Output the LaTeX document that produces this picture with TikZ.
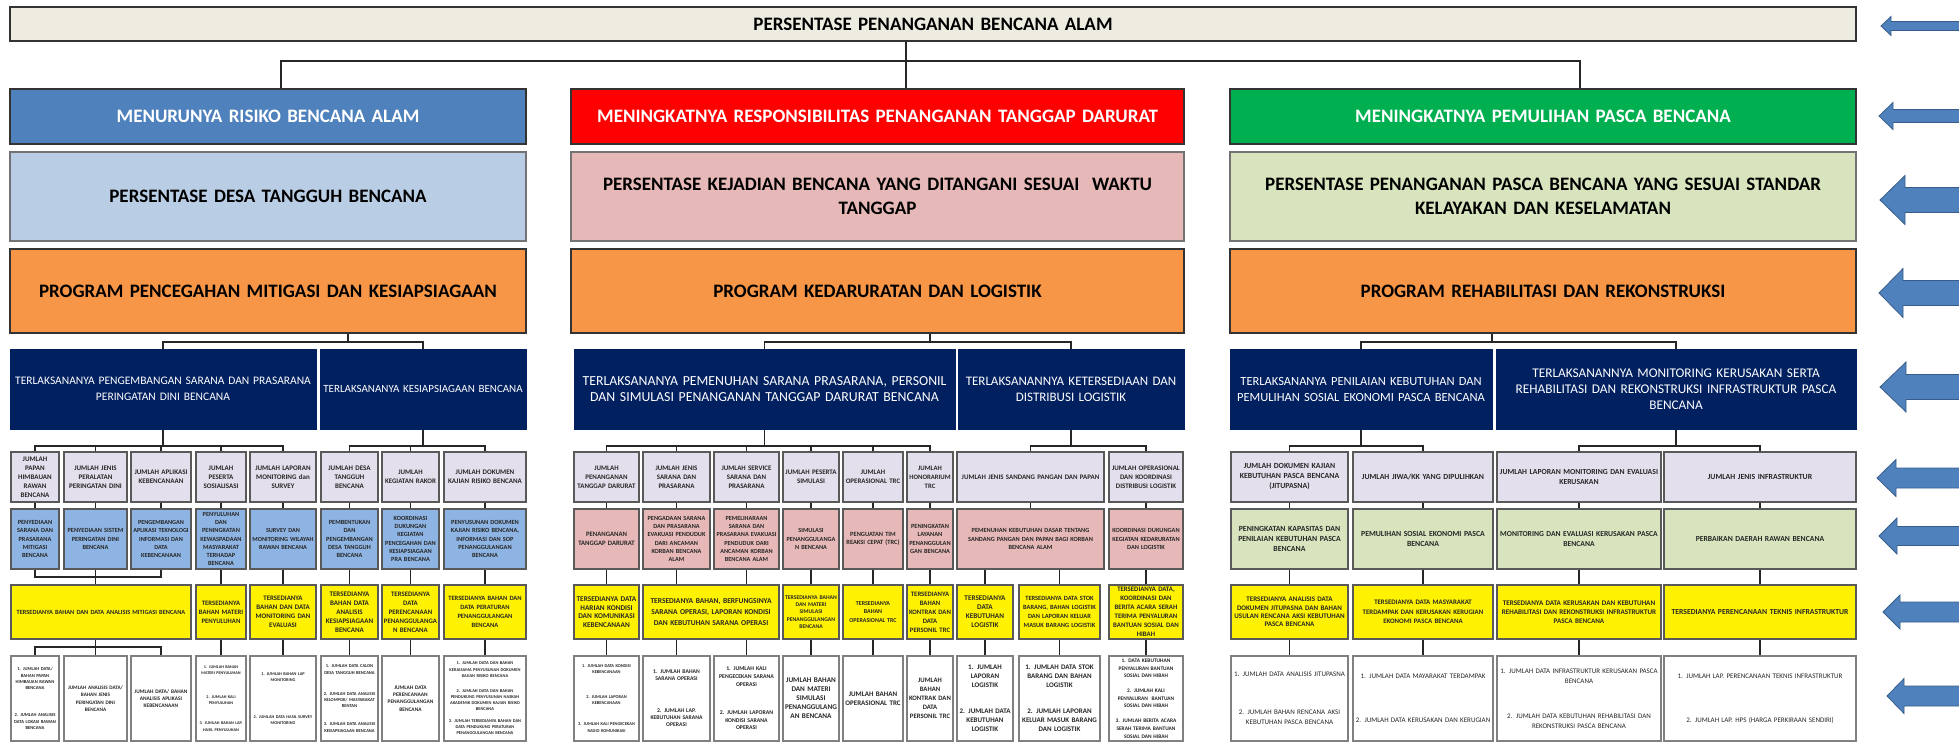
\documentclass[tikz,border=0pt]{standalone}
\usepackage{fontspec}
\setmainfont{Carlito}
\definecolor{cTitle}{HTML}{EEECE1}
\definecolor{cBlue}{HTML}{4F81BD}
\definecolor{cRed}{HTML}{FF0000}
\definecolor{cGreen}{HTML}{00B050}
\definecolor{cT2l}{HTML}{B9CDE5}
\definecolor{cT2m}{HTML}{E6B9B8}
\definecolor{cT2r}{HTML}{D7E4BD}
\definecolor{cOrange}{HTML}{F79646}
\definecolor{cNavy}{HTML}{002060}
\definecolor{cLav}{HTML}{E4DFEC}
\definecolor{cBlueBox}{HTML}{8DB4E2}
\definecolor{cPink}{HTML}{E6B9B8}
\definecolor{cGreenBox}{HTML}{D7E4BD}
\definecolor{cArrow}{HTML}{4F81BD}
\definecolor{cArrowD}{HTML}{385D8A}
\newcommand\mybox[7]{%
 \pgfmathsetlengthmacro\mbw{(#4-#2)*1pt}%
 \pgfmathsetlengthmacro\mbh{(#5-#3)*1pt}%
 \pgfmathsetlengthmacro\mbt{(#4-#2-3)*1pt}%
 \node[#6, minimum width=\mbw, minimum height=\mbh, text width=\mbt] (#1) at ({(#2+#4)/2},{(#3+#5)/2}) {#7};}
\newcommand\myarrow[5]{\filldraw[arr] ({#2},{#1}) -- ({#3},{#1-#4}) -- ({#3},{#1-#5}) -- (1965,{#1-#5}) -- (1965,{#1+#5}) -- ({#3},{#1+#5}) -- ({#3},{#1+#4}) -- cycle;}
\tikzset{
 fs/.style 2 args={font=\fontsize{#1pt}{#2pt}\selectfont\bfseries},
 fr/.style 2 args={font=\fontsize{#1pt}{#2pt}\selectfont},
 tier/.style={rectangle, draw=black!80, line width=1.5pt, align=center, inner xsep=1.5pt, inner ysep=0pt},
 nav/.style={rectangle, fill=cNavy, draw=cNavy, line width=1pt, text=white, align=center, inner xsep=1.5pt, inner ysep=0pt},
 sml/.style={rectangle, draw=black!65, line width=1.4pt, align=center, inner xsep=1.5pt, inner ysep=0pt, text=black!85},
 lav/.style={sml, fill=cLav},
 blu/.style={sml, fill=cBlueBox},
 pnk/.style={sml, fill=cPink},
 grn/.style={sml, fill=cGreenBox},
 yel/.style={sml, fill=yellow},
 wht/.style={sml, fill=white, draw=black!50},
 conn/.style={draw=black!85, line width=1.5pt},
 arr/.style={fill=cArrow, draw=cArrowD, line width=0.8pt}
}
\begin{document}
\hyphenpenalty=10000 \exhyphenpenalty=10000
\begin{tikzpicture}[x=1pt,y=-1pt]
\useasboundingbox (0,0) rectangle (1959,743);
\fill[white] (0,0) rectangle (1959,743);
% ---------- top tiers
\mybox{top}{10}{7}{1856}{41}{tier,fill=cTitle,fs={19}{22}}{PERSENTASE PENANGANAN BENCANA ALAM}
\mybox{t1l}{10}{89}{526}{144}{tier,fill=cBlue,text=white,fs={19}{22}}{MENURUNYA RISIKO BENCANA ALAM}
\mybox{t1m}{571}{89}{1184}{144}{tier,fill=cRed,text=white,fs={19}{22}}{MENINGKATNYA RESPONSIBILITAS PENANGANAN TANGGAP DARURAT}
\mybox{t1r}{1230}{89}{1856}{144}{tier,fill=cGreen,text=white,fs={19}{22}}{MENINGKATNYA PEMULIHAN PASCA BENCANA}
\mybox{t2l}{10}{152}{526}{241}{tier,draw=black!55,fill=cT2l,fs={19}{24}}{PERSENTASE DESA TANGGUH BENCANA}
\mybox{t2m}{571}{152}{1184}{241}{tier,draw=black!55,fill=cT2m,fs={19}{24}}{PERSENTASE KEJADIAN BENCANA YANG DITANGANI SESUAI~ WAKTU\\TANGGAP}
\mybox{t2r}{1230}{152}{1856}{241}{tier,draw=black!55,fill=cT2r,fs={19}{24}}{PERSENTASE PENANGANAN PASCA BENCANA YANG SESUAI STANDAR\\KELAYAKAN DAN KESELAMATAN}
\mybox{t3l}{10}{249}{526}{333}{tier,fill=cOrange,fs={19}{24}}{PROGRAM PENCEGAHAN MITIGASI DAN KESIAPSIAGAAN}
\mybox{t3m}{571}{249}{1184}{333}{tier,fill=cOrange,fs={19}{24}}{PROGRAM KEDARURATAN DAN LOGISTIK}
\mybox{t3r}{1230}{249}{1856}{333}{tier,fill=cOrange,fs={19}{24}}{PROGRAM REHABILITASI DAN REKONSTRUKSI}
% ---------- navy
\mybox{nL1}{10}{349}{316}{429}{nav,fr={11.5}{16}}{TERLAKSANANYA PENGEMBANGAN SARANA DAN PRASARANA\\PERINGATAN DINI BENCANA}
\mybox{nL2}{320}{349}{526}{429}{nav,fr={11}{16}}{TERLAKSANANYA KESIAPSIAGAAN BENCANA}
\mybox{nM1}{574}{349}{955}{429}{nav,fr={13.8}{16}}{TERLAKSANANYA PEMENUHAN SARANA PRASARANA, PERSONIL\\DAN SIMULASI PENANGANAN TANGGAP DARURAT BENCANA}
\mybox{nM2}{958}{349}{1184}{429}{nav,fr={13}{16}}{TERLAKSANANNYA KETERSEDIAAN DAN\\DISTRIBUSI LOGISTIK}
\mybox{nR1}{1230}{349}{1492}{429}{nav,fr={12.5}{16}}{TERLAKSANANYA PENILAIAN KEBUTUHAN DAN\\PEMULIHAN SOSIAL EKONOMI PASCA BENCANA}
\mybox{nR2}{1496}{349}{1856}{429}{nav,fr={13.3}{16}}{TERLAKSANANNYA MONITORING KERUSAKAN SERTA\\REHABILITASI DAN REKONSTRUKSI INFRASTRUKTUR PASCA\\BENCANA}
% ---------- left group
\mybox{lL1}{11}{452}{59}{502}{lav,fs={7}{9}}{JUMLAH\\PAPAN\\HIMBAUAN\\RAWAN\\BENCANA}
\mybox{lL2}{64}{452}{127}{502}{lav,fs={7}{9}}{JUMLAH JENIS\\PERALATAN\\PERINGATAN DINI}
\mybox{lL3}{131}{452}{191}{502}{lav,fs={7}{9}}{JUMLAH APLIKASI\\KEBENCANAAN}
\mybox{lL4}{196}{452}{246}{502}{lav,fs={7}{9}}{JUMLAH\\PESERTA\\SOSIALISASI}
\mybox{lL5}{250}{452}{316}{502}{lav,fs={7}{9}}{JUMLAH LAPORAN\\MONITORING dan\\SURVEY}
\mybox{lL6}{321}{452}{378}{502}{lav,fs={7}{9}}{JUMLAH DESA\\TANGGUH\\BENCANA}
\mybox{lL7}{382}{452}{439}{502}{lav,fs={6.9}{9}}{JUMLAH\\KEGIATAN RAKOR}
\mybox{lL8}{444}{452}{526}{502}{lav,fs={7}{9}}{JUMLAH DOKUMEN\\KAJIAN RISIKO BENCANA}
\mybox{bL1}{11}{509}{59}{569}{blu,fs={6.3}{8.3}}{PENYEDIAAN\\SARANA DAN\\PRASARANA\\MITIGASI\\BENCANA}
\mybox{bL2}{64}{509}{127}{569}{blu,fs={6.3}{8.3}}{PENYEDIAAN SISTEM\\PERINGATAN DINI\\BENCANA}
\mybox{bL3}{131}{509}{191}{569}{blu,fs={6.2}{8.3}}{PENGEMBANGAN\\APLIKASI TEKNOLOGI\\INFORMASI DAN\\DATA\\KEBENCANAAN}
\mybox{bL4}{196}{509}{246}{569}{blu,fs={6.3}{8.3}}{PENYULUHAN\\DAN\\PENINGKATAN\\KEWASPADAAN\\MASYARAKAT\\TERHADAP\\BENCANA}
\mybox{bL5}{250}{509}{316}{569}{blu,fs={6.2}{8.3}}{SURVEY DAN\\MONITORING WILAYAH\\RAWAN BENCANA}
\mybox{bL6}{321}{509}{378}{569}{blu,fs={6.3}{8.3}}{PEMBENTUKAN\\DAN\\PENGEMBANGAN\\DESA TANGGUH\\BENCANA}
\mybox{bL7}{382}{509}{439}{569}{blu,fs={6.3}{8.3}}{KOORDINASI\\DUKUNGAN\\KEGIATAN\\PENCEGAHAN DAN\\KESIAPSIAGAAN\\PRA BENCANA}
\mybox{bL8}{444}{509}{526}{569}{blu,fs={6.3}{8.3}}{PENYUSUNAN DOKUMEN\\KAJIAN RISIKO BENCANA,\\INFORMASI DAN SOP\\PENANGGULANGAN\\BENCANA}
\mybox{yL1}{11}{585}{191}{639}{yel,fs={6.35}{9}}{TERSEDIANYA BAHAN DAN DATA ANALISIS MITIGASI BENCANA}
\mybox{yL4}{196}{585}{246}{639}{yel,fs={6.7}{9}}{TERSEDIANYA\\BAHAN MATERI\\PENYULUHAN}
\mybox{yL5}{250}{585}{316}{639}{yel,fs={6.9}{9}}{TERSEDIANYA\\BAHAN DAN DATA\\MONITORING DAN\\EVALUASI}
\mybox{yL6}{321}{585}{378}{639}{yel,fs={7}{8.9}}{TERSEDIANYA\\BAHAN DATA\\ANALISIS\\KESIAPSIAGAAN\\BENCANA}
\mybox{yL7}{382}{585}{439}{639}{yel,fs={6.8}{8.9}}{TERSEDIANYA\\DATA\\PERENCANAAN\\PENANGGULANGA\\N BENCANA}
\mybox{yL8}{444}{585}{526}{639}{yel,fs={6.5}{8.9}}{TERSEDIANYA BAHAN DAN\\DATA PERATURAN\\PENANGGULANGAN\\BENCANA}
\mybox{wL1}{11}{656}{59}{741}{wht,fs={4.6}{6.3}}{1. JUMLAH DATA/\\BAHAN PAPAN\\HIMBAUAN RAWAN\\BENCANA\\[21pt]2. JUMLAH ANALISIS\\DATA LOKASI RAWAN\\BENCANA}
\mybox{wL2}{64}{656}{127}{741}{wht,fs={5.2}{7.5}}{JUMLAH ANALISIS DATA/\\BAHAN JENIS\\PERINGATAN DINI\\BENCANA}
\mybox{wL3}{131}{656}{191}{741}{wht,fs={5.4}{7.2}}{JUMLAH DATA/ BAHAN\\ANALISIS APLIKASI\\KEBENCANAAN}
\mybox{wL4}{196}{656}{246}{741}{wht,fs={4.2}{6.3}}{1. JUMLAH BAHAN\\MATERI PENYULUHAN\\[17pt]2. JUMLAH KALI\\PENYULUHAN\\[14pt]3. JUMLAH BAHAN LAP.\\HASIL PENYULUHAN}
\mybox{wL5}{250}{656}{316}{741}{wht,fs={4.3}{6.3}}{1. JUMLAH BAHAN LAP\\MONITORING\\[30pt]2. JUMLAH DATA HASIL SURVEY\\MONITORING}
\mybox{wL6}{321}{656}{378}{741}{wht,fs={4.5}{6.2}}{1. JUMLAH DATA CALON\\DESA TANGGUH BENCANA\\[15pt]2. JUMLAH DATA ANALISIS\\KELOMPOK/ MASYARAKAT\\RENTAN\\[12pt]3. JUMLAH DATA ANALISIS\\KESIAPSIAGAAN BENCANA}
\mybox{wL7}{382}{656}{439}{741}{wht,fs={5.4}{7.2}}{JUMLAH DATA\\PERENCANAAN\\PENANGGULANGAN\\BENCANA}
\mybox{wL8}{444}{656}{526}{741}{wht,fs={4.4}{6.1}}{1. JUMLAH DATA DAN BAHAN\\KERJASAMA PENYUSUNAN DOKUMEN\\KAJIAN RISIKO BENCANA\\[9pt]2. JUMLAH DATA DAN BAHAN\\PENDUKUNG PENYUSUNAN NASKAH\\AKADEMIK DOKUMEN KAJIAN RISIKO\\BENCANA\\[6pt]3. JUMLAH TERSEDIANYA BAHAN DAN\\DATA PENDUKUNG PERATURAN\\PENANGGULANGAN BENCANA}
% ---------- middle group
\mybox{lM1}{574}{452}{639}{502}{lav,fs={6.9}{9}}{JUMLAH\\PENANGANAN\\TANGGAP DARURAT}
\mybox{lM2}{643}{452}{710}{502}{lav,fs={6.9}{9}}{JUMLAH JENIS\\SARANA DAN\\PRASARANA}
\mybox{lM3}{714}{452}{779}{502}{lav,fs={6.9}{9}}{JUMLAH SERVICE\\SARANA DAN\\PRASARANA}
\mybox{lM4}{783}{452}{839}{502}{lav,fs={6.9}{9}}{JUMLAH PESERTA\\SIMULASI}
\mybox{lM5}{843}{452}{903}{502}{lav,fs={6.9}{9}}{JUMLAH\\OPERASIONAL TRC}
\mybox{lM6}{907}{452}{953}{502}{lav,fs={6.7}{9}}{JUMLAH\\HONORARIUM\\TRC}
\mybox{lM7}{957}{452}{1104}{502}{lav,fs={6.9}{9}}{JUMLAH JENIS SANDANG PANGAN DAN PAPAN}
\mybox{lM8}{1109}{452}{1183}{502}{lav,fs={6.9}{9}}{JUMLAH OPERASIONAL\\DAN KOORDINASI\\DISTRIBUSI LOGISTIK}
\mybox{pM1}{574}{509}{639}{569}{pnk,fs={6.7}{9}}{PENANGANAN\\TANGGAP DARURAT}
\mybox{pM2}{643}{509}{710}{569}{pnk,fs={6.25}{8.3}}{PENGADAAN SARANA\\DAN PRASARANA\\EVAKUASI PENDUDUK\\DARI ANCAMAN\\KORBAN BENCANA\\ALAM}
\mybox{pM3}{714}{509}{779}{569}{pnk,fs={6.2}{8.3}}{PEMELIHARAAN\\SARANA DAN\\PRASARANA EVAKUASI\\PENDUDUK DARI\\ANCAMAN KORBAN\\BENCANA ALAM}
\mybox{pM4}{783}{509}{839}{569}{pnk,fs={6.25}{8.3}}{SIMULASI\\PENANGGULANGA\\N BENCANA}
\mybox{pM5}{843}{509}{903}{569}{pnk,fs={6.4}{8.3}}{PENGUATAN TIM\\REAKSI CEPAT (TRC)}
\mybox{pM6}{907}{509}{953}{569}{pnk,fs={6.3}{8.3}}{PENINGKATAN\\LAYANAN\\PENANGGULAN\\GAN BENCANA}
\mybox{pM7}{957}{509}{1104}{569}{pnk,fs={6.3}{8.3}}{PEMENUHAN KEBUTUHAN DASAR TENTANG\\SANDANG PANGAN DAN PAPAN BAGI KORBAN\\BENCANA ALAM}
\mybox{pM8}{1109}{509}{1183}{569}{pnk,fs={6.3}{8.3}}{KOORDINASI DUKUNGAN\\KEGIATAN KEDARURATAN\\DAN LOGISTIK}
\mybox{yM1}{574}{585}{639}{639}{yel,fs={7.3}{8.7}}{TERSEDIANYA DATA\\HARIAN KONDISI\\DAN KOMUNIKASI\\KEBENCANAAN}
\mybox{yM2}{643}{585}{779}{639}{yel,fs={7.5}{10.7}}{TERSEDIANYA BAHAN, BERFUNGSINYA\\SARANA OPERASI, LAPORAN KONDISI\\DAN KEBUTUHAN SARANA OPERASI}
\mybox{yM3}{783}{585}{839}{639}{yel,fs={5.7}{7.3}}{TERSEDIANYA BAHAN\\DAN MATERI\\SIMULASI\\PENANGGULANGAN\\BENCANA}
\mybox{yM4}{843}{585}{903}{639}{yel,fs={6}{8.3}}{TERSEDIANYA\\BAHAN\\OPERASIONAL TRC}
\mybox{yM5}{907}{585}{953}{639}{yel,fs={6.7}{9}}{TERSEDIANYA\\BAHAN\\KONTRAK DAN\\DATA\\PERSONIL TRC}
\mybox{yM6}{957}{585}{1013}{639}{yel,fs={7.2}{9}}{TERSEDIANYA\\DATA\\KEBUTUHAN\\LOGISTIK}
\mybox{yM7}{1019}{585}{1100}{639}{yel,fs={6.4}{8.9}}{TERSEDIANYA DATA STOK\\BARANG, BAHAN LOGISTIK\\DAN LAPORAN KELUAR\\MASUK BARANG LOGISTIK}
\mybox{yM8}{1109}{585}{1183}{639}{yel,fs={6.8}{8.9}}{TERSEDIANYA DATA,\\KOORDINASI DAN\\BERITA ACARA SERAH\\TERIMA PENYALURAN\\BANTUAN SOSIAL DAN\\HIBAH}
\mybox{wM1}{574}{656}{639}{741}{wht,fs={4.4}{6.3}}{1. JUMLAH DATA KONDISI\\KEBENCANAAN\\[18pt]2. JUMLAH LAPORAN\\KEBENCANAAN\\[15pt]3. JUMLAH KALI PENGECEKAN\\RADIO KOMUNIKASI}
\mybox{wM2}{643}{656}{710}{741}{wht,fs={5.7}{7}}{1. JUMLAH BAHAN\\SARANA OPERASI\\[25pt]2. JUMLAH LAP.\\KEBUTUHAN SARANA\\OPERASI}
\mybox{wM3}{714}{656}{779}{741}{wht,fs={5.8}{7.8}}{1. JUMLAH KALI\\PENGECEKAN SARANA\\OPERASI\\[20pt]2. JUMLAH LAPORAN\\KONDISI SARANA\\OPERASI}
\mybox{wM4}{783}{656}{839}{741}{wht,fs={7.2}{9}}{JUMLAH BAHAN\\DAN MATERI\\SIMULASI\\PENANGGULANG\\AN BENCANA}
\mybox{wM5}{843}{656}{903}{741}{wht,fs={7}{9}}{JUMLAH BAHAN\\OPERASIONAL TRC}
\mybox{wM6}{907}{656}{953}{741}{wht,fs={6.7}{9}}{JUMLAH\\BAHAN\\KONTRAK DAN\\DATA\\PERSONIL TRC}
\mybox{wM7}{957}{656}{1013}{741}{wht,fs={7}{9}}{1. JUMLAH\\LAPORAN\\LOGISTIK\\[17pt]2. JUMLAH DATA\\KEBUTUHAN\\LOGISTIK}
\mybox{wM8}{1019}{656}{1100}{741}{wht,fs={7}{9}}{1. JUMLAH DATA STOK\\BARANG DAN BAHAN\\LOGISTIK\\[17pt]2. JUMLAH LAPORAN\\KELUAR MASUK BARANG\\DAN LOGISTIK}
\mybox{wM9}{1109}{656}{1183}{741}{wht,fs={5.4}{7.7}}{1. DATA KEBUTUHAN\\PENYALURAN BANTUAN\\SOSIAL DAN HIBAH\\[7pt]2. JUMLAH KALI\\PENYALURAN~ BANTUAN\\SOSIAL DAN HIBAH\\[7pt]3. JUMLAH BERITA ACARA\\SERAH TERIMA BANTUAN\\SOSIAL DAN HIBAH}
% ---------- right group
\mybox{lR1}{1231}{452}{1348}{502}{lav,fs={7.8}{10}}{JUMLAH DOKUMEN KAJIAN\\KEBUTUHAN PASCA BENCANA\\(JITUPASNA)}
\mybox{lR2}{1353}{452}{1493}{502}{lav,fs={7.8}{10}}{JUMLAH JIWA/KK YANG DIPULIHKAN}
\mybox{lR3}{1497}{452}{1661}{502}{lav,fs={7.7}{10}}{JUMLAH LAPORAN MONITORING DAN EVALUASI\\KERUSAKAN}
\mybox{lR4}{1664}{452}{1856}{502}{lav,fs={7.8}{10}}{JUMLAH JENIS INFRASTRUKTUR}
\mybox{gR1}{1231}{509}{1348}{569}{grn,fs={7.8}{9.7}}{PENINGKATAN KAPASITAS DAN\\PENILAIAN KEBUTUHAN PASCA\\BENCANA}
\mybox{gR2}{1353}{509}{1493}{569}{grn,fs={7.8}{9.7}}{PEMULIHAN SOSIAL EKONOMI PASCA\\BENCANA}
\mybox{gR3}{1497}{509}{1661}{569}{grn,fs={7.6}{9.7}}{MONITORING DAN EVALUASI KERUSAKAN PASCA\\BENCANA}
\mybox{gR4}{1664}{509}{1856}{569}{grn,fs={7.7}{9.7}}{PERBAIKAN DAERAH RAWAN BENCANA}
\mybox{yR1}{1231}{585}{1348}{639}{yel,fs={7}{8.3}}{TERSEDIANYA ANALISIS DATA\\DOKUMEN JITUPASNA DAN BAHAN\\USULAN RENCANA AKSI KEBUTUHAN\\PASCA BENCANA}
\mybox{yR2}{1353}{585}{1493}{639}{yel,fs={6.85}{9.3}}{TERSEDIANYA DATA MASYARAKAT\\TERDAMPAK DAN KERUSAKAN KERUGIAN\\EKONOMI PASCA BENCANA}
\mybox{yR3}{1497}{585}{1661}{639}{yel,fs={7.1}{9}}{TERSEDIANYA DATA KERUSAKAN DAN KEBUTUHAN\\REHABILITASI DAN REKONSTRUKSI INFRASTRUKTUR\\PASCA BENCANA}
\mybox{yR4}{1664}{585}{1856}{639}{yel,fs={7.7}{9}}{TERSEDIANYA PERENCANAAN TEKNIS INFRASTRUKTUR}
\mybox{wR1}{1231}{656}{1348}{741}{wht,fr={7}{10}}{1. JUMLAH DATA ANALISIS JITUPASNA\\[28pt]2. JUMLAH BAHAN RENCANA AKSI\\KEBUTUHAN PASCA BENCANA}
\mybox{wR2}{1353}{656}{1493}{741}{wht,fr={7}{10}}{1. JUMLAH DATA MAYARAKAT TERDAMPAK\\[34pt]2. JUMLAH DATA KERUSAKAN DAN KERUGIAN}
\mybox{wR3}{1497}{656}{1661}{741}{wht,fr={7}{10}}{1. JUMLAH DATA INFRASTRUKTUR KERUSAKAN PASCA\\BENCANA\\[25pt]2. JUMLAH DATA KEBUTUHAN REHABILITASI DAN\\REKONSTRUKSI PASCA BENCANA}
\mybox{wR4}{1664}{656}{1856}{741}{wht,fr={7}{10}}{1. JUMLAH LAP. PERENCANAAN TEKNIS INFRASTRUKTUR\\[34pt]2. JUMLAH LAP. HPS (HARGA PERKIRAAN SENDIRI)}
% ---------- connectors: top
\coordinate (jt) at (906,61);
\coordinate (jl) at (281,61);
\coordinate (jr) at (1580,61);
\draw[conn] (top.south -| jt) -- (t1m.north -| jt);
\draw[conn] (t1l.north -| jl) -- (jl) -- (jr) -- (t1r.north -| jr);
% orange -> navy
\coordinate (kl) at (348,342);
\coordinate (km) at (930,342);
\coordinate (kr) at (1492,342);
\draw[conn] (t3l.south -| kl) -- (kl);
\draw[conn] (nL1.north) |- (kl) -| (nL2.north);
\draw[conn] (t3m.south -| km) -- (km);
\draw[conn] (nM1.north) |- (km) -| (nM2.north);
\draw[conn] (t3r.south -| kr) -- (kr);
\draw[conn] (nR1.north) |- (kr) -| (nR2.north);
% navy -> lavender buses
\coordinate (yb) at (0,446);
\draw[conn] (nL1.south) -- (nL1.south |- yb);
\draw[conn] (lL1.north) -- (lL1.north |- yb) -- (lL5.north |- yb) -- (lL5.north);
\foreach \n in {lL2,lL3,lL4} \draw[conn] (\n.north) -- (\n.north |- yb);
\draw[conn] (nL2.south) -- (nL2.south |- yb);
\draw[conn] (lL6.north) -- (lL6.north |- yb) -- (lL8.north |- yb) -- (lL8.north);
\draw[conn] (lL7.north) -- (lL7.north |- yb);
\draw[conn] (nM1.south) -- (nM1.south |- yb);
\draw[conn] (lM1.north) -- (lM1.north |- yb) -- (lM6.north |- yb) -- (lM6.north);
\foreach \n in {lM2,lM3,lM4,lM5} \draw[conn] (\n.north) -- (\n.north |- yb);
\draw[conn] (nM2.south) -- (nM2.south |- yb);
\draw[conn] (lM7.north) -- (lM7.north |- yb) -- (lM8.north |- yb) -- (lM8.north);
\draw[conn] (nR1.south) -- (nR1.south |- yb);
\draw[conn] (lR1.north) -- (lR1.north |- yb) -- (lR2.north |- yb) -- (lR2.north);
\draw[conn] (nR2.south) -- (nR2.south |- yb);
\draw[conn] (lR3.north) -- (lR3.north |- yb) -- (lR4.north |- yb) -- (lR4.north);
% lavender -> second row
\foreach \a/\b in {lL1/bL1,lL2/bL2,lL3/bL3,lL4/bL4,lL5/bL5,lL6/bL6,lL7/bL7,lL8/bL8,lM1/pM1,lM2/pM2,lM3/pM3,lM4/pM4,lM5/pM5,lM6/pM6,lM7/pM7,lM8/pM8,lR1/gR1,lR2/gR2,lR3/gR3,lR4/gR4}
  \draw[conn] (\a.south) -- (\b.north);
% second row -> yellow
\coordinate (yc) at (0,577);
\draw[conn] (bL1.south) -- (bL1.south |- yc) -- (bL3.south |- yc) -- (bL3.south);
\draw[conn] (bL2.south) -- (bL2.south |- yL1.north);
\foreach \a/\b in {bL4/yL4,bL5/yL5,bL6/yL6,bL7/yL7,bL8/yL8,pM1/yM1,pM4/yM3,pM5/yM4,pM6/yM5,pM8/yM8,gR1/yR1,gR2/yR2,gR3/yR3,gR4/yR4}
  \draw[conn] (\a.south) -- (\b.north);
\draw[conn] (pM2.south) -- (pM2.south |- yM2.north);
\draw[conn] (pM3.south) -- (pM3.south |- yM2.north);
\draw[conn] (pM7.south -| yM6.north) -- (yM6.north);
\draw[conn] (pM7.south -| yM7.north) -- (yM7.north);
% yellow -> white
\coordinate (yd) at (0,647);
\draw[conn] (wL2.north |- yL1.south) -- (wL2.north);
\draw[conn] (wL1.north) -- (wL1.north |- yd) -- (wL3.north |- yd) -- (wL3.north);
\foreach \a/\b in {yL4/wL4,yL5/wL5,yL6/wL6,yL7/wL7,yL8/wL8,yM1/wM1,yM3/wM4,yM4/wM5,yM5/wM6,yM6/wM7,yM7/wM8,yM8/wM9,yR1/wR1,yR2/wR2,yR3/wR3,yR4/wR4}
  \draw[conn] (\a.south) -- (\b.north);
\draw[conn] (wM2.north |- yM2.south) -- (wM2.north);
\draw[conn] (wM3.north |- yM2.south) -- (wM3.north);
% ---------- arrows
\myarrow{26}{1881}{1891}{9.5}{4.5}
\myarrow{116}{1879}{1893}{13.5}{6.5}
\myarrow{200}{1880}{1905}{24.5}{12.5}
\myarrow{293}{1879}{1903}{24.5}{12.5}
\myarrow{387}{1880}{1906}{25}{12.5}
\myarrow{478}{1877}{1896}{18.5}{10}
\myarrow{536}{1879}{1897}{18}{9.5}
\myarrow{612}{1883}{1900}{17}{10}
\myarrow{696}{1887}{1904}{17.5}{10}
\end{tikzpicture}
\end{document}
